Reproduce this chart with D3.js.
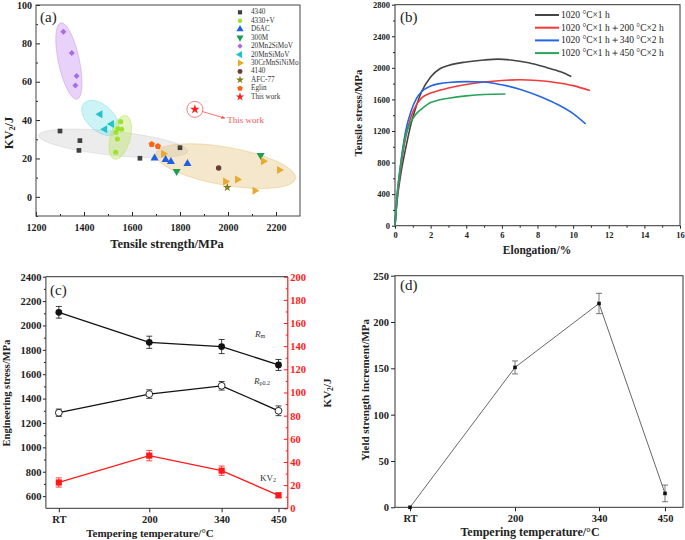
<!DOCTYPE html>
<html>
<head>
<meta charset="utf-8">
<script src="https://cdn.jsdelivr.net/npm/d3@7"></script>
<style>
  body { margin: 0; background: #fff; }
  svg { font-family: "Liberation Serif", "Times New Roman", serif; }
</style>
</head>
<body>
<div id="chart"></div>
<script>
// ---- (a) KV2 vs tensile strength, literature steels ----
const gradeNames = ['4340', '4330+V', 'D6AC', '300M', '20Mn2SiMoV', '20MnSiMoV', '30CrMnSiNiMo', '4140', 'AFC-77', 'Eglin', 'This work'];
const pts4340 = [[1300, 34.3], [1383, 29.3], [1379, 24.2], [1633, 20.1], [1800, 25.6]];
const pts4330V = [[1532, 23.2], [1539, 30.1], [1533, 33.6], [1541, 35.5], [1557, 35.2], [1553, 39.2]];
const ptsD6AC = [[1694, 20.2], [1740, 19.4], [1762, 18.3], [1831, 17.3]];
const pts300M = [[1786, 13.3], [2136, 21.6]];
const pts20Mn2SiMoV = [[1314, 86], [1349, 75], [1369, 63], [1364, 58]];
const pts20MnSiMoV = [[1467, 43], [1487, 35.2], [1515, 38]];
const pts30CrMnSiNiMo = [[1731, 22.4], [2147, 18.6], [2214, 14], [2039, 9], [1989, 8], [2112, 3.2]];
const pts4140 = [[1961, 15]];
const ptsAFC77 = [[1997, 4.9]];
const ptsEglin = [[1682, 27.4], [1708, 26.3]];
const ptsThisWork = [[1862, 45.6]];

// ---- (b) engineering stress-strain curves ----
const curveNames = ['1020 °C×1 h', '1020 °C×1 h＋200 °C×2 h', '1020 °C×1 h＋340 °C×2 h', '1020 °C×1 h＋450 °C×2 h'];
const curveQ = [[0, 0], [0.1, 280], [0.3, 620], [0.6, 980], [0.9, 1290], [1.2, 1520], [1.5, 1700], [2, 1885], [2.5, 1985], [3, 2030], [4, 2075], [5, 2100], [5.8, 2110], [6.5, 2100], [7.5, 2065], [8.5, 2005], [9.3, 1950], [9.9, 1890]];
const curveT200 = [[0, 0], [0.1, 300], [0.3, 690], [0.6, 1120], [0.9, 1380], [1.2, 1530], [1.5, 1620], [2, 1680], [2.5, 1715], [3, 1745], [4, 1790], [5, 1820], [6, 1840], [7, 1850], [8, 1840], [9, 1815], [10, 1775], [10.95, 1712]];
const curveT340 = [[0, 0], [0.1, 340], [0.3, 750], [0.6, 1200], [0.9, 1450], [1.2, 1610], [1.5, 1700], [2, 1770], [2.5, 1800], [3, 1815], [4, 1825], [5, 1820], [6, 1785], [7, 1730], [8, 1650], [9, 1550], [10, 1420], [10.7, 1290]];
const curveT450 = [[0, 0], [0.1, 340], [0.3, 740], [0.6, 1140], [0.9, 1320], [1.2, 1420], [1.5, 1480], [2, 1560], [2.5, 1595], [3, 1615], [4, 1645], [5, 1662], [6.2, 1668]];

// ---- (c) / (d) properties vs tempering temperature ----
const tempLabels = ['RT', '200', '340', '450'];
const tempValues = [25, 200, 340, 450];
const rmValues = [2108, 1862, 1827, 1676];
const rmErrors = [48, 50, 58, 45];
const rpValues = [1284, 1437, 1505, 1300];
const rpErrors = [30, 35, 35, 40];
const kvValues = [22.3, 45.5, 32.5, 11.2];
const kvErrors = [4, 4.5, 4, 2];
const ysIncValues = [0, 151, 220, 15];
const ysIncErrors = [0, 7, 11, 9];

const FONT = '"Liberation Serif", "Times New Roman", serif';
const fmt = d3.format('d');

const svg = d3.select('#chart').append('svg')
  .attr('width', 685)
  .attr('height', 540);

// pentagon symbol for Eglin
const symbolPentagon = {
  draw(ctx, size) {
    const r = Math.sqrt(size / 2.3776);
    for (let i = 0; i < 5; i++) {
      const a = -Math.PI / 2 + i * 2 * Math.PI / 5;
      i ? ctx.lineTo(r * Math.cos(a), r * Math.sin(a)) : ctx.moveTo(r * Math.cos(a), r * Math.sin(a));
    }
    ctx.closePath();
  }
};

function styleAxis(g, size, color, bold = true) {
  g.attr('font-family', FONT).attr('font-size', size);
  g.select('.domain').remove();
  g.selectAll('line').attr('stroke', color);
  g.selectAll('text').attr('fill', color).attr('font-weight', bold ? 'bold' : 'normal');
  return g;
}

function addAxis(gen, tx, ty, size, color = '#222') {
  return styleAxis(svg.append('g').attr('transform', `translate(${tx},${ty})`).call(gen), size, color);
}

function addText(x, y, txt, size, opts = {}) {
  const t = svg.append('text')
    .attr('x', x).attr('y', y)
    .attr('font-family', FONT)
    .attr('font-size', size)
    .attr('font-weight', opts.weight || 'normal')
    .attr('fill', opts.fill || '#222')
    .attr('text-anchor', opts.anchor || 'start')
    .attr('dominant-baseline', 'central')
    .text(txt);
  if (opts.rotate) t.attr('transform', `rotate(${opts.rotate},${x},${y})`);
  return t;
}

// ================= (a) =================
const xA = d3.scaleLinear([1200, 2300], [36, 300]);
const yA = d3.scaleLinear([-10, 100], [216, 5]);

const gradeSeries = [pts4340, pts4330V, ptsD6AC, pts300M, pts20Mn2SiMoV, pts20MnSiMoV, pts30CrMnSiNiMo, pts4140, ptsAFC77, ptsEglin, ptsThisWork];
const gradeStyle = [
  { sym: d3.symbolSquare, size: 22, color: '#404040', rot: 0 },
  { sym: d3.symbolCircle, size: 20, color: '#9be22d', rot: 0 },
  { sym: d3.symbolTriangle, size: 28, color: '#1f5fe0', rot: 0 },
  { sym: d3.symbolTriangle, size: 28, color: '#1e9e55', rot: 180 },
  { sym: d3.symbolSquare, size: 18, color: '#a46ee6', rot: 45 },
  { sym: d3.symbolTriangle, size: 28, color: '#1fc3cc', rot: -90 },
  { sym: d3.symbolTriangle, size: 28, color: '#e8a92c', rot: 90 },
  { sym: d3.symbolCircle, size: 24, color: '#6e3b3b', rot: 0 },
  { sym: d3.symbolStar, size: 24, color: '#7f7f1f', rot: 0 },
  { sym: symbolPentagon, size: 26, color: '#ff6414', rot: 0 },
  { sym: d3.symbolStar, size: 28, color: '#ff1a1a', rot: 0 }
];

// shaded clusters: centre in data units, semi-axes in px, tilt in degrees
const clusters = [
  { cx: 1522, cy: 27.9, a: 75, b: 12, angle: 6, fill: '#cfcfcf' },
  { cx: 1990, cy: 16, a: 71, b: 19, angle: 10, fill: '#e6c47e' },
  { cx: 1337, cy: 70.8, a: 39, b: 10.5, angle: 78, fill: '#c98ff0' },
  { cx: 1468, cy: 41.1, a: 22, b: 13, angle: 42, fill: '#7fe0e6' },
  { cx: 1551, cy: 31, a: 22.5, b: 10, angle: -75, fill: '#b9e35c' }
];

svg.append('g').selectAll('ellipse')
  .data(clusters)
  .join('ellipse')
  .attr('transform', d => `translate(${xA(d.cx)},${yA(d.cy)}) rotate(${d.angle})`)
  .attr('rx', d => d.a)
  .attr('ry', d => d.b)
  .attr('fill', d => d.fill)
  .attr('fill-opacity', 0.4)
  .attr('stroke', d => d.fill)
  .attr('stroke-opacity', 0.6)
  .attr('stroke-width', 0.8);

addAxis(d3.axisBottom(xA).tickValues(d3.range(1200, 2201, 200)).tickFormat(fmt).tickSize(-4).tickPadding(8), 0, 216, 10);
addAxis(d3.axisBottom(xA).tickValues(d3.range(1300, 2300, 200)).tickSize(-2).tickFormat(''), 0, 216, 10);
addAxis(d3.axisLeft(yA).tickValues(d3.range(0, 101, 20)).tickFormat(fmt).tickSize(-4).tickPadding(4), 36, 0, 10);
addAxis(d3.axisLeft(yA).tickValues(d3.range(-10, 100, 20)).tickSize(-2).tickFormat(''), 36, 0, 10);

svg.append('rect')
  .attr('x', xA(1200)).attr('y', yA(100))
  .attr('width', xA(2300) - xA(1200)).attr('height', yA(-10) - yA(100))
  .attr('fill', 'none').attr('stroke', '#444').attr('stroke-width', 1);

// "This work" callout
const tw = ptsThisWork[0];
const twEnd = [1987, 41];
svg.append('defs').append('marker')
  .attr('id', 'arrowA')
  .attr('viewBox', '0 0 10 10').attr('refX', 9).attr('refY', 5)
  .attr('markerWidth', 5).attr('markerHeight', 5).attr('orient', 'auto')
  .append('path').attr('d', 'M0,1 L10,5 L0,9 Z').attr('fill', '#f05050');
svg.append('circle')
  .attr('cx', xA(tw[0])).attr('cy', yA(tw[1])).attr('r', 8)
  .attr('fill', 'none').attr('stroke', '#f06060').attr('stroke-width', 0.8);
{
  const x0 = xA(tw[0]), y0 = yA(tw[1]), x1 = xA(twEnd[0]), y1 = yA(twEnd[1]);
  const d = Math.hypot(x1 - x0, y1 - y0);
  svg.append('line')
    .attr('x1', x0 + (x1 - x0) / d * 8).attr('y1', y0 + (y1 - y0) / d * 8)
    .attr('x2', x1).attr('y2', y1)
    .attr('stroke', '#f05050').attr('stroke-width', 0.8)
    .attr('marker-end', 'url(#arrowA)');
}
addText(xA(1997), yA(39.8), 'This work', 9, { fill: '#f05a5a' });

gradeSeries.forEach((pts, i) => {
  const st = gradeStyle[i];
  svg.append('g').selectAll('path')
    .data(pts)
    .join('path')
    .attr('transform', d => `translate(${xA(d[0])},${yA(d[1])}) rotate(${st.rot})`)
    .attr('d', d3.symbol(st.sym, st.size))
    .attr('fill', st.color);
});

// legend (a)
gradeNames.forEach((name, i) => {
  const st = gradeStyle[i];
  const y = 12.3 + i * 8.45;
  svg.append('path')
    .attr('transform', `translate(240,${y}) rotate(${st.rot})`)
    .attr('d', d3.symbol(st.sym, st.size * 0.8))
    .attr('fill', st.color);
  addText(251, y, name, 7.2, { fill: '#333' });
});

addText(40, 17, '(a)', 15);
addText(167, 244, 'Tensile strength/MPa', 12.5, { weight: 'bold', anchor: 'middle' });
{
  const t = addText(9, 133, 'KV', 12.5, { weight: 'bold', anchor: 'middle', rotate: -90 });
  t.append('tspan').attr('font-size', 8).attr('dy', 3).text('2');
  t.append('tspan').attr('dy', -3).text('/J');
}

// ================= (b) =================
const xB = d3.scaleLinear([0, 16], [395, 680]);
const yB = d3.scaleLinear([0, 2800], [225.7, 4.7]);

addAxis(d3.axisBottom(xB).tickValues(d3.range(0, 17, 2)).tickFormat(fmt).tickSize(3).tickPadding(3), 0, yB(0), 8.5);
addAxis(d3.axisBottom(xB).tickValues(d3.range(1, 16, 2)).tickSize(2).tickFormat(''), 0, yB(0), 8.5);
addAxis(d3.axisLeft(yB).tickValues(d3.range(0, 2801, 400)).tickFormat(fmt).tickSize(3).tickPadding(2), xB(0), 0, 8.5);
addAxis(d3.axisLeft(yB).tickValues(d3.range(200, 2800, 400)).tickSize(2).tickFormat(''), xB(0), 0, 8.5);

svg.append('rect')
  .attr('x', xB(0)).attr('y', yB(2800))
  .attr('width', xB(16) - xB(0)).attr('height', yB(0) - yB(2800))
  .attr('fill', 'none').attr('stroke', '#333').attr('stroke-width', 1);

const curveSeries = [curveQ, curveT200, curveT340, curveT450];
const curveColors = ['#444444', '#f23a3a', '#2566e0', '#27a35a'];
const lineB = d3.line().x(d => xB(d[0])).y(d => yB(d[1])).curve(d3.curveMonotoneX);
curveSeries.forEach((c, i) => {
  svg.append('path')
    .attr('d', lineB(c))
    .attr('fill', 'none')
    .attr('stroke', curveColors[i])
    .attr('stroke-width', 1.6);
});

curveNames.forEach((name, i) => {
  const y = 15 + i * 12.7;
  svg.append('line')
    .attr('x1', 535).attr('x2', 559).attr('y1', y).attr('y2', y)
    .attr('stroke', curveColors[i]).attr('stroke-width', 2);
  addText(561, y, name, 9.5);
});

addText(400, 17, '(b)', 15);
addText(537, 250, 'Elongation/%', 11.5, { weight: 'bold', anchor: 'middle' });
addText(358, 113, 'Tensile stress/MPa', 11, { weight: 'bold', anchor: 'middle', rotate: -90 });

// ================= (c) =================
const xC = d3.scaleLinear([0, 468], [45.9, 287.8]);
const yCL = d3.scaleLinear([500, 2400], [508.3, 276.7]);
const yCR = d3.scaleLinear([0, 200], [508.3, 276.7]);

addAxis(d3.axisBottom(xC).tickValues(tempValues).tickFormat((d, i) => tempLabels[i]).tickSize(4).tickPadding(3), 0, 508.3, 10.5);
addAxis(d3.axisLeft(yCL).tickValues(d3.range(600, 2401, 200)).tickFormat(fmt).tickSize(3).tickPadding(1.5), 45.9, 0, 10.5);
addAxis(d3.axisLeft(yCL).tickValues(d3.range(700, 2400, 200)).tickSize(2).tickFormat(''), 45.9, 0, 10.5);
addAxis(d3.axisRight(yCR).tickValues(d3.range(0, 201, 20)).tickFormat(fmt).tickSize(-4).tickPadding(2.5), 287.8, 0, 10.5, '#ff1a1a');
addAxis(d3.axisRight(yCR).tickValues(d3.range(10, 200, 20)).tickSize(-2).tickFormat(''), 287.8, 0, 10.5, '#ff1a1a');

svg.append('path')
  .attr('d', `M${xC(468)},${yCL(2400)} H${xC(0)} V${yCL(500)} H${xC(468)}`)
  .attr('fill', 'none').attr('stroke', '#333').attr('stroke-width', 1);
svg.append('line')
  .attr('x1', xC(468)).attr('x2', xC(468)).attr('y1', yCR(0)).attr('y2', yCR(200))
  .attr('stroke', '#ff1a1a').attr('stroke-width', 1.2);

function drawSeries(xs, ys, vals, errs, color, width, marker) {
  const pts = vals.map((v, i) => [tempValues[i], v, errs[i]]);
  svg.append('path')
    .attr('d', d3.line().x(d => xs(d[0])).y(d => ys(d[1]))(pts))
    .attr('fill', 'none').attr('stroke', color).attr('stroke-width', width);
  const eb = svg.append('g').attr('stroke', color).attr('stroke-width', 0.8);
  pts.filter(d => d[2] > 0).forEach(d => {
    const x = xs(d[0]), y0 = ys(d[1] - d[2]), y1 = ys(d[1] + d[2]);
    eb.append('line').attr('x1', x).attr('x2', x).attr('y1', y0).attr('y2', y1);
    eb.append('line').attr('x1', x - 3).attr('x2', x + 3).attr('y1', y0).attr('y2', y0);
    eb.append('line').attr('x1', x - 3).attr('x2', x + 3).attr('y1', y1).attr('y2', y1);
  });
  const g = svg.append('g');
  pts.forEach(d => marker(g, xs(d[0]), ys(d[1])));
}

drawSeries(xC, yCL, rmValues, rmErrors, '#111', 1.3, (g, x, y) =>
  g.append('circle').attr('cx', x).attr('cy', y).attr('r', 3.4).attr('fill', '#111'));
drawSeries(xC, yCL, rpValues, rpErrors, '#111', 1.3, (g, x, y) =>
  g.append('circle').attr('cx', x).attr('cy', y).attr('r', 3.4).attr('fill', '#fff').attr('stroke', '#111').attr('stroke-width', 0.9));
drawSeries(xC, yCR, kvValues, kvErrors, '#ff1a1a', 1.3, (g, x, y) =>
  g.append('rect').attr('x', x - 3.1).attr('y', y - 3.1).attr('width', 6.2).attr('height', 6.2).attr('fill', '#ff1a1a'));

{
  const t = addText(255, 334, 'R', 9, { fill: '#333' }).attr('font-style', 'italic');
  t.append('tspan').attr('font-size', 6).attr('dy', 2).attr('font-style', 'normal').text('m');
  const t2 = addText(254, 381, 'R', 9, { fill: '#333' }).attr('font-style', 'italic');
  t2.append('tspan').attr('font-size', 6).attr('dy', 2).attr('font-style', 'normal').text('p0.2');
  const t3 = addText(260, 478, 'KV', 9, { fill: '#333' });
  t3.append('tspan').attr('font-size', 6).attr('dy', 2).text('2');
}

addText(50, 290, '(c)', 15);
addText(150, 533, 'Tempering temperature/°C', 11, { weight: 'bold', anchor: 'middle' });
addText(6, 393, 'Engineering stress/MPa', 10.5, { weight: 'bold', anchor: 'middle', rotate: -90 });
{
  const t = addText(327, 393, 'KV', 11, { weight: 'bold', anchor: 'middle', rotate: -90 });
  t.append('tspan').attr('font-size', 7.5).attr('dy', 3).text('2');
  t.append('tspan').attr('dy', -3).text('/J');
}

// ================= (d) =================
const xD = d3.scaleLinear([0, 480], [395, 683]);
const yD = d3.scaleLinear([0, 250], [507.3, 275.7]);

addAxis(d3.axisBottom(xD).tickValues(tempValues).tickFormat((d, i) => tempLabels[i]).tickSize(4).tickPadding(3), 0, yD(0), 10.5);
addAxis(d3.axisLeft(yD).tickValues(d3.range(0, 251, 50)).tickFormat(fmt).tickSize(4).tickPadding(2), xD(0), 0, 10.5);

svg.append('rect')
  .attr('x', xD(0)).attr('y', yD(250))
  .attr('width', xD(480) - xD(0)).attr('height', yD(0) - yD(250))
  .attr('fill', 'none').attr('stroke', '#333').attr('stroke-width', 1);

drawSeries(xD, yD, ysIncValues, ysIncErrors, '#555', 0.9, (g, x, y) =>
  g.append('rect').attr('x', x - 1.8).attr('y', y - 1.8).attr('width', 3.6).attr('height', 3.6).attr('fill', '#111'));

addText(400, 285, '(d)', 15);
addText(530, 532, 'Tempering temperature/°C', 12, { weight: 'bold', anchor: 'middle' });
addText(365, 390, 'Yield strength increment/MPa', 11, { weight: 'bold', anchor: 'middle', rotate: -90 });
</script>
</body>
</html>
